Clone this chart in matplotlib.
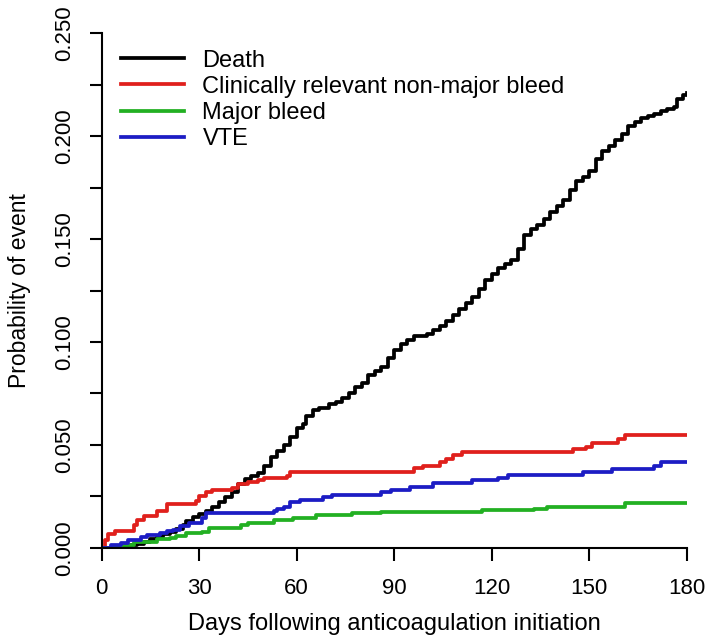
import matplotlib
matplotlib.use('Agg')
import matplotlib.pyplot as plt

plt.rcParams['font.family'] = ['Liberation Sans', 'DejaVu Sans']

# Cumulative probability step curves (day, value)
death_days = [0, 6, 9, 11, 13, 15, 17, 19, 21, 23, 25, 26, 28, 30, 32, 34, 36, 38, 40, 42,
              44, 46, 48, 50, 52, 54, 56, 58, 60, 62, 63, 65, 67, 70, 72, 74, 76, 78, 80, 82,
              84, 86, 88, 90, 92, 94, 96, 100, 102, 104, 106, 108, 110, 112, 114, 116, 118,
              120, 122, 124, 126, 128, 130, 132, 134, 136, 138, 140, 142, 144, 146, 148, 150,
              152, 154, 156, 158, 160, 162, 164, 166, 168, 170, 172, 174, 176, 177, 179, 180]
death_vals = [0, 0.0008, 0.0015, 0.002, 0.003, 0.0045, 0.0055, 0.0068, 0.0078, 0.009, 0.011,
              0.013, 0.0148, 0.0165, 0.018, 0.020, 0.0225, 0.0245, 0.027, 0.031, 0.0335, 0.035,
              0.0365, 0.040, 0.044, 0.047, 0.050, 0.054, 0.058, 0.060, 0.064, 0.067, 0.068,
              0.070, 0.071, 0.073, 0.075, 0.078, 0.080, 0.084, 0.086, 0.088, 0.092, 0.096,
              0.099, 0.101, 0.103, 0.104, 0.106, 0.108, 0.110, 0.113, 0.116, 0.119, 0.122,
              0.126, 0.130, 0.133, 0.136, 0.138, 0.140, 0.145, 0.152, 0.155, 0.157, 0.160,
              0.163, 0.166, 0.169, 0.174, 0.178, 0.180, 0.183, 0.189, 0.193, 0.195, 0.198,
              0.201, 0.205, 0.207, 0.209, 0.210, 0.211, 0.212, 0.213, 0.214, 0.218, 0.220, 0.221]

crnmb_days = [0, 1, 2, 4, 10, 11, 13, 17, 20, 29, 30, 32, 34, 40, 42, 45, 48, 50, 57, 58,
              96, 99, 104, 106, 108, 111, 145, 149, 151, 159, 161, 180]
crnmb_vals = [0, 0.004, 0.0065, 0.0084, 0.011, 0.0135, 0.0155, 0.018, 0.0214, 0.023, 0.025,
              0.027, 0.028, 0.029, 0.031, 0.032, 0.033, 0.034, 0.035, 0.037, 0.0388, 0.0398,
              0.0415, 0.043, 0.045, 0.0468, 0.048, 0.049, 0.0511, 0.053, 0.0549, 0.0549]

major_days = [0, 6, 10, 14, 17, 21, 23, 26, 31, 33, 43, 45, 53, 59, 66, 77, 86, 117, 133,
              137, 143, 161, 180]
major_vals = [0, 0.0015, 0.0026, 0.003, 0.0042, 0.005, 0.0058, 0.007, 0.0075, 0.0095, 0.011,
              0.012, 0.0133, 0.0145, 0.016, 0.0168, 0.0174, 0.0184, 0.019, 0.0199, 0.020,
              0.0217, 0.0217]

vte_days = [0, 3, 6, 8, 12, 14, 18, 20, 22, 24, 27, 31, 32, 53, 54, 56, 58, 61, 68, 71, 86,
            89, 95, 102, 114, 122, 125, 148, 157, 170, 172, 180]
vte_vals = [0, 0.0015, 0.0024, 0.004, 0.0055, 0.0062, 0.0073, 0.008, 0.0088, 0.0104, 0.012,
            0.0145, 0.0168, 0.018, 0.019, 0.020, 0.0225, 0.0233, 0.0249, 0.0257, 0.0273,
            0.0282, 0.0298, 0.0314, 0.033, 0.0338, 0.0354, 0.037, 0.0383, 0.040, 0.0416, 0.0416]

x_ticks = [0, 30, 60, 90, 120, 150, 180]
y_ticks = [0, 0.025, 0.05, 0.075, 0.1, 0.125, 0.15, 0.175, 0.2, 0.225, 0.25]
y_labels = ['0.000', '', '0.050', '', '0.100', '', '0.150', '', '0.200', '', '0.250']

fig = plt.figure(figsize=(7.09, 6.4), dpi=100)
ax = fig.add_axes([0.1434, 0.144, 0.825, 0.804])

lw = 2.7
ax.step(death_days, death_vals, where='post', color='black', lw=lw, label='Death')
ax.step(crnmb_days, crnmb_vals, where='post', color='#e0201c', lw=lw,
        label='Clinically relevant non-major bleed')
ax.step(major_days, major_vals, where='post', color='#22b022', lw=lw, label='Major bleed')
ax.step(vte_days, vte_vals, where='post', color='#1c1cc4', lw=lw, label='VTE')

ax.set_xlim(0, 180)
ax.set_ylim(0, 0.25)
for side in ['top', 'right']:
    ax.spines[side].set_visible(False)
for side in ['left', 'bottom']:
    ax.spines[side].set_linewidth(1.5)

ax.set_xticks(x_ticks)
ax.set_yticks(y_ticks)
ax.set_yticklabels(y_labels, rotation=90, va='center')
ax.tick_params(direction='out', length=9, width=1.5, labelsize=16)
ax.tick_params(axis='x', pad=13)
ax.tick_params(axis='y', pad=10)

ax.set_xlabel('Days following anticoagulation initiation', fontsize=17, labelpad=10)
ax.set_ylabel('Probability of event', fontsize=16.5, labelpad=17)

ax.legend(loc='upper left', bbox_to_anchor=(0.033, 0.968), frameon=False, fontsize=17,
          handlelength=2.65, handletextpad=0.8, labelspacing=0.17, borderpad=0, borderaxespad=0)

fig.savefig('out.png', dpi=100)
